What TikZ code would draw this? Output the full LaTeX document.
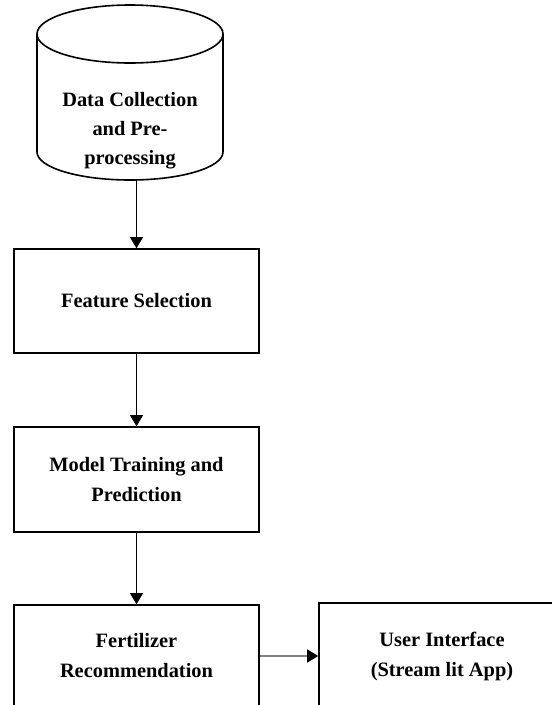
\documentclass[tikz,border=0pt]{standalone}
\usepackage{fontspec}
\setmainfont{Liberation Serif}
\usetikzlibrary{arrows.meta}

\begin{document}
\begin{tikzpicture}[x=1pt, y=-1pt, line width=1.6pt,
  stage/.style={draw, minimum width=245pt, align=center, inner sep=0pt,
    font=\fontsize{20.4}{30}\selectfont\bfseries},
  flow/.style={-{Triangle[width=13pt,length=11pt]}, line width=0.8pt}]
  \useasboundingbox (0,0) rectangle (552,705);
  % data store drawn as a cylinder
  \draw (130,34) ellipse [x radius=93, y radius=29];
  \draw (37,34) -- (37,152) arc[start angle=180, end angle=0, x radius=93, y radius=28] -- (223,34);
  \node[align=center, font=\fontsize{20.4}{29}\selectfont\bfseries] (data) at (130,131) {Data Collection\\and Pre-\\processing};
  \coordinate (databot) at (136.5,180);
  % pipeline stages
  \node[stage, minimum height=104pt] (feat) at (136.5,301) {Feature Selection};
  \node[stage, minimum height=105pt] (model) at (136.5,479.5) {Model Training and\\Prediction};
  \node[stage, minimum height=102pt] (fert) at (136.5,656) {Fertilizer\\Recommendation};
  \node[stage, minimum height=106pt, minimum width=246pt] (ui) at (442,656) {User Interface\\(Stream lit App)};
  % connectors
  \draw[flow] (databot) -- (feat.north);
  \draw[flow] (feat) -- (model);
  \draw[flow] (model) -- (fert);
  \draw[-{Triangle[width=13pt,length=11pt,color=black]}, line width=1.3pt, gray] (fert) -- (ui);
\end{tikzpicture}
\end{document}
